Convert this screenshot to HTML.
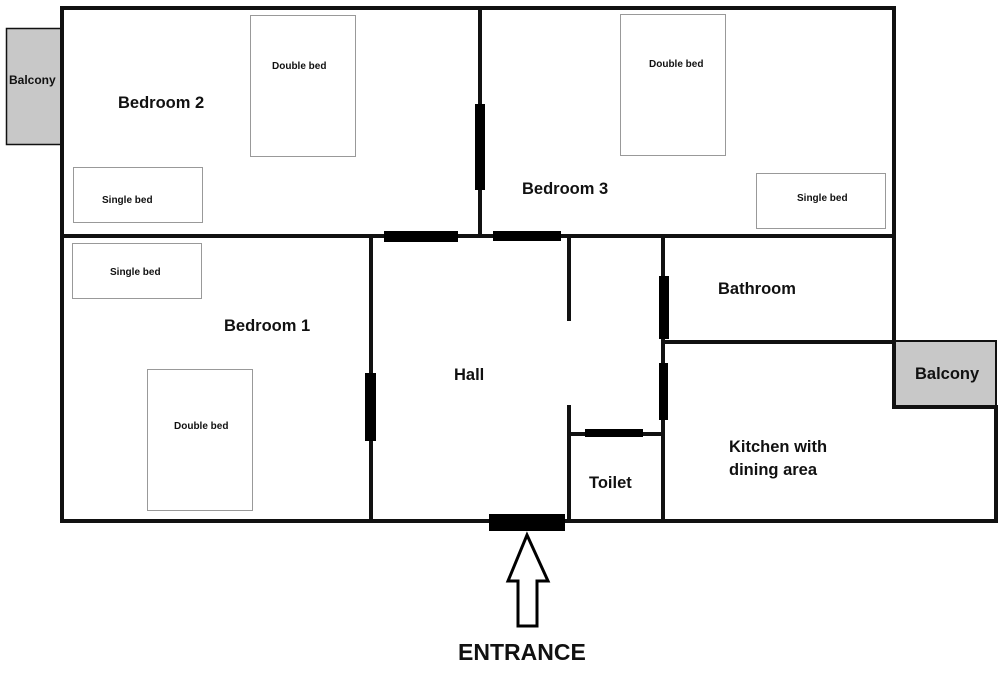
<!DOCTYPE html>
<html><head><meta charset="utf-8"><style>
html,body{margin:0;padding:0;background:#fff;width:1000px;height:683px;overflow:hidden}
svg{display:block}
text{font-family:"Liberation Sans",sans-serif;fill:#111}
.l{font-size:16.5px;font-weight:bold}
.s{font-size:10px;font-weight:bold}
</style></head><body>
<svg width="1000" height="683" viewBox="0 0 1000 683">
<rect x="6.5" y="28.5" width="55" height="116" fill="#c8c8c8" stroke="#111" stroke-width="1.5"/>
<rect x="894" y="341" width="102" height="66" fill="#c8c8c8" stroke="#111" stroke-width="2"/>
<g stroke="#111" stroke-width="4" fill="none" stroke-linecap="square">
<line x1="62" y1="8" x2="894" y2="8"/>
<line x1="62" y1="8" x2="62" y2="521"/>
<line x1="894" y1="8" x2="894" y2="407"/>
<line x1="894" y1="407" x2="996" y2="407"/>
<line x1="996" y1="407" x2="996" y2="521"/>
<line x1="62" y1="521" x2="996" y2="521"/>
<line x1="62" y1="236" x2="894" y2="236"/>
<line x1="480" y1="8" x2="480" y2="236"/>
<line x1="371" y1="236" x2="371" y2="521"/>
<line x1="569" y1="236" x2="569" y2="319"/>
<line x1="569" y1="407" x2="569" y2="521"/>
<line x1="569" y1="434" x2="663" y2="434"/>
<line x1="663" y1="236" x2="663" y2="521"/>
<line x1="663" y1="342" x2="894" y2="342"/>
</g>
<g fill="#000">
<rect x="475" y="104" width="10" height="86"/>
<rect x="384" y="231" width="74" height="11"/>
<rect x="493" y="231" width="68" height="10"/>
<rect x="365" y="373" width="11" height="68"/>
<rect x="659" y="276" width="10" height="63"/>
<rect x="659" y="363" width="9" height="57"/>
<rect x="585" y="429" width="58" height="8"/>
<rect x="489" y="514" width="76" height="17"/>
</g>
<g fill="#fff" stroke="#999" stroke-width="1">
<rect x="250.5" y="15.5" width="105" height="141"/>
<rect x="73.5" y="167.5" width="129" height="55"/>
<rect x="620.5" y="14.5" width="105" height="141"/>
<rect x="756.5" y="173.5" width="129" height="55"/>
<rect x="72.5" y="243.5" width="129" height="55"/>
<rect x="147.5" y="369.5" width="105" height="141"/>
</g>
<polygon points="527,535 548,581 537,581 537,626 518,626 518,581 508,581" fill="#fff" stroke="#000" stroke-width="3" stroke-linejoin="miter"/>
<text class="s" x="9" y="84" style="font-size:12px">Balcony</text>
<text class="l" x="118" y="108">Bedroom 2</text>
<text class="s" x="272" y="69">Double bed</text>
<text class="s" x="102" y="203">Single bed</text>
<text class="l" x="522" y="194">Bedroom 3</text>
<text class="s" x="649" y="67">Double bed</text>
<text class="s" x="797" y="201">Single bed</text>
<text class="s" x="110" y="275">Single bed</text>
<text class="l" x="224" y="331">Bedroom 1</text>
<text class="s" x="174" y="429">Double bed</text>
<text class="l" x="454" y="380">Hall</text>
<text class="l" x="718" y="294">Bathroom</text>
<text class="l" x="915" y="379">Balcony</text>
<text class="l" x="729" y="452">Kitchen with</text>
<text class="l" x="729" y="475">dining area</text>
<text class="l" x="589" y="488">Toilet</text>
<text x="458" y="660" style="font-size:23px;font-weight:bold">ENTRANCE</text>
</svg>
</body></html>
